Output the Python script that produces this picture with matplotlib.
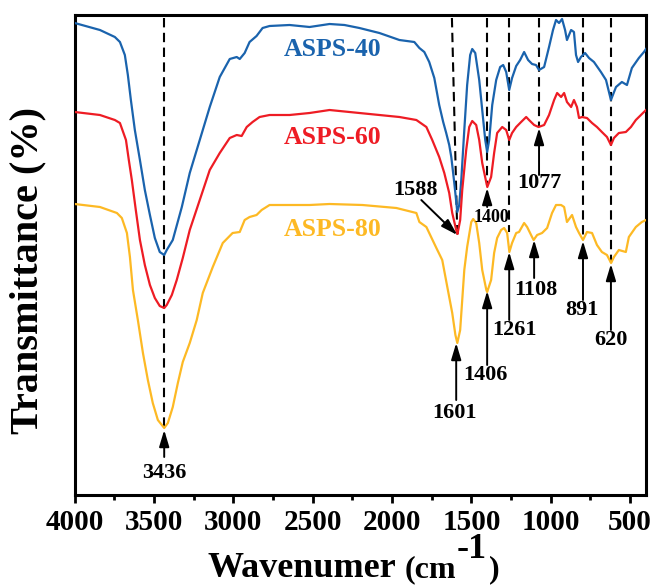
import numpy as np
import matplotlib
matplotlib.use('Agg')
import matplotlib.pyplot as plt

plt.rcParams['font.family'] = ['Liberation Serif', 'DejaVu Serif']
plt.rcParams['font.weight'] = 'bold'
plt.rcParams['mathtext.default'] = 'regular'

# spectra: wavenumber (cm-1) and transmittance (a.u.)
wn_40 = [4000, 3841, 3747, 3715, 3684, 3665, 3646, 3621, 3589, 3558, 3526, 3495, 3464,
         3436, 3420, 3382, 3325, 3275, 3212, 3149, 3086, 3023, 2979, 2960, 2929, 2898,
         2854, 2816, 2772, 2646, 2520, 2394, 2300, 2206, 2080, 1954, 1860, 1828, 1797,
         1766, 1734, 1703, 1678, 1659, 1640, 1627, 1608, 1589, 1577, 1564, 1545, 1527,
         1508, 1495, 1476, 1451, 1432, 1413, 1401, 1388, 1369, 1344, 1319, 1300, 1281,
         1262, 1244, 1218, 1193, 1168, 1143, 1118, 1093, 1074, 1042, 1011, 986, 967,
         948, 929, 910, 898, 872, 854, 841, 828, 810, 784, 759, 728, 684, 652, 621,
         589, 552, 520, 489, 445, 413, 400]
t_40 = [95.4, 94.0, 92.6, 91.6, 89.0, 85.0, 80.0, 74.0, 68.0, 62.0, 57.0, 52.4, 49.6,
        49.0, 50.0, 52.0, 58.6, 65.4, 72.0, 78.6, 84.6, 88.2, 88.6, 88.2, 89.4, 91.6,
        92.8, 94.4, 94.8, 95.0, 94.6, 95.2, 95.0, 94.4, 93.4, 92.0, 91.6, 90.4, 89.6,
        87.6, 84.4, 79.0, 75.6, 73.4, 71.0, 68.6, 63.4, 57.6, 59.0, 64.0, 74.0, 83.0,
        89.0, 90.2, 89.4, 84.0, 78.0, 72.0, 69.6, 72.0, 79.0, 84.0, 86.6, 87.0, 85.6,
        82.0, 84.4, 86.8, 88.0, 89.6, 88.0, 87.2, 87.0, 86.0, 86.6, 90.6, 94.0, 96.0,
        95.4, 96.2, 94.0, 92.0, 94.0, 93.6, 89.0, 87.6, 88.6, 89.4, 88.4, 87.6, 85.6,
        84.0, 80.0, 82.6, 83.6, 83.0, 86.4, 88.4, 89.6, 90.2]

wn_60 = [4000, 3841, 3747, 3715, 3677, 3659, 3640, 3615, 3589, 3558, 3526, 3495, 3464,
         3436, 3420, 3388, 3357, 3319, 3275, 3212, 3149, 3086, 3023, 2979, 2948, 2916,
         2879, 2835, 2772, 2646, 2520, 2394, 2206, 2080, 1954, 1847, 1784, 1747, 1703,
         1671, 1640, 1621, 1596, 1588, 1571, 1558, 1533, 1514, 1495, 1470, 1451, 1432,
         1407, 1400, 1376, 1357, 1338, 1306, 1281, 1262, 1244, 1218, 1187, 1155, 1137,
         1105, 1077, 1042, 1011, 979, 960, 935, 916, 898, 872, 854, 835, 822, 803, 772,
         740, 709, 678, 646, 621, 602, 571, 527, 495, 464, 432, 400]
t_60 = [77.6, 77.0, 76.0, 75.4, 72.0, 68.0, 64.0, 58.0, 52.0, 47.0, 43.0, 40.4, 38.8,
        38.4, 39.0, 41.0, 44.0, 48.4, 54.0, 60.0, 66.0, 69.4, 72.4, 73.0, 72.8, 74.6,
        75.6, 76.6, 77.0, 77.0, 77.4, 78.0, 77.4, 77.0, 76.6, 76.0, 74.6, 72.0, 68.6,
        65.4, 61.4, 57.4, 54.0, 53.2, 56.0, 62.0, 70.0, 74.6, 75.8, 75.0, 72.0, 67.4,
        63.6, 62.6, 64.6, 69.4, 73.4, 74.6, 74.0, 72.0, 73.4, 74.6, 75.6, 76.6, 76.0,
        75.0, 74.6, 75.0, 77.0, 80.0, 81.4, 80.6, 81.4, 79.6, 78.6, 80.0, 78.6, 76.4,
        76.6, 76.4, 75.4, 74.6, 73.6, 72.6, 71.0, 72.4, 73.4, 73.6, 74.6, 76.0, 77.0,
        78.0]

wn_80 = [4000, 3841, 3734, 3703, 3671, 3652, 3633, 3602, 3570, 3539, 3508, 3476, 3436,
         3413, 3382, 3350, 3319, 3275, 3231, 3193, 3130, 3067, 3005, 2960, 2929, 2898,
         2854, 2822, 2772, 2646, 2520, 2394, 2187, 1973, 1847, 1828, 1784, 1766, 1721,
         1684, 1652, 1621, 1601, 1589, 1571, 1558, 1545, 1527, 1501, 1489, 1470, 1451,
         1432, 1406, 1401, 1376, 1357, 1338, 1313, 1294, 1275, 1261, 1244, 1218, 1200,
         1168, 1149, 1118, 1108, 1086, 1055, 1023, 992, 967, 935, 916, 898, 866, 841,
         822, 797, 772, 740, 709, 678, 646, 620, 602, 571, 527, 508, 464, 426, 400]
t_80 = [59.2, 58.6, 57.4, 56.4, 53.4, 48.6, 42.0, 36.0, 29.4, 24.0, 19.4, 16.0, 14.4,
        15.4, 18.6, 23.4, 27.6, 31.4, 36.0, 41.4, 46.6, 51.4, 53.4, 53.6, 56.0, 56.6,
        57.0, 58.0, 59.0, 59.0, 59.0, 59.2, 59.0, 58.4, 57.4, 55.6, 54.6, 53.4, 50.4,
        48.0, 42.6, 37.4, 33.0, 31.4, 34.0, 40.0, 46.0, 50.6, 55.6, 56.2, 55.4, 51.4,
        46.0, 42.0, 41.6, 44.0, 49.4, 52.4, 54.0, 54.4, 53.4, 49.6, 51.4, 53.4, 53.6,
        55.4, 54.6, 52.6, 52.0, 53.0, 53.4, 54.4, 57.4, 59.0, 59.0, 58.6, 55.6, 57.0,
        54.6, 53.4, 52.0, 53.6, 53.4, 51.0, 49.6, 49.0, 47.4, 48.6, 50.0, 49.6, 52.6,
        54.6, 55.6, 56.0]

names = ['ASPS-40', 'ASPS-60', 'ASPS-80']
colors = ['#1a63ad', '#ee1c24', '#fdb924']

# dashed guide lines: (wn top, wn bottom, transmittance at bottom)
guides = [(3436, 3436, 14.4), (1623, 1589, 53.0), (1401, 1401, 63.0),
          (1262, 1262, 53.6), (1073, 1073, 74.6), (797, 797, 52.0), (621, 621, 47.4)]

# peak labels: text, text position, arrow tail, arrow tip, font size
peaks = [
    ('3436', (3436, 5.4), (3436, 8.6), (3436, 14.0), 16),
    ('1588', (1854, 62.0), (1816, 60.0), (1589, 53.0), 16),
    ('1400', (1376, 56.6), (1401, 58.6), (1401, 62.4), 13),
    ('1077', (1074, 63.4), (1074, 65.0), (1074, 74.4), 16),
    ('1601', (1608, 17.4), (1596, 20.0), (1596, 31.4), 16),
    ('1406', (1413, 25.0), (1401, 27.0), (1401, 41.8), 16),
    ('1261', (1231, 34.0), (1262, 36.0), (1262, 49.6), 16),
    ('1108', (1093, 42.0), (1105, 44.4), (1105, 52.0), 16),
    ('891', (803, 38.0), (797, 40.0), (797, 51.8), 16),
    ('620', (621, 32.0), (621, 34.0), (621, 47.2), 16),
]

fig = plt.figure(figsize=(6.55, 5.87), dpi=100)
ax = fig.add_axes([74.7 / 655, 92 / 587, 571.3 / 655, 480 / 587])

for wn, t, c in zip([wn_40, wn_60, wn_80], [t_40, t_60, t_80], colors):
    ax.plot(wn, t, color=c, lw=1.6, zorder=3)

for x0, x1, yb in guides:
    ax.plot([x0, x1], [96.4, yb], color='k', lw=1.5, ls=(0, (4.5, 2.6)), zorder=2)

for txt, tpos, tail, tip, fs in peaks:
    ax.annotate('', xy=tip, xytext=tail,
                arrowprops=dict(arrowstyle='-|>,head_length=0.5,head_width=0.15',
                                mutation_scale=20, color='k', lw=1.4,
                                shrinkA=0, shrinkB=0), zorder=4)
    ax.text(tpos[0], tpos[1], txt, fontsize=fs, fontweight='bold',
            ha='center', va='center', zorder=5)

for name, c, y in zip(names, colors, [90.0, 72.6, 54.0]):
    ax.text(2376, y, name, color=c, fontsize=18.5, fontweight='bold',
            ha='center', va='center')

ax.set_xlim(4000, 400)
ax.set_ylim(1, 97)
ax.set_xticks([4000, 3500, 3000, 2500, 2000, 1500, 1000, 500])
ax.set_xticks(np.arange(3750, 400, -500), minor=True)
ax.set_yticks([])
ax.tick_params(axis='x', which='major', direction='out', length=6, width=2,
               labelsize=21, pad=4)
ax.tick_params(axis='x', which='minor', direction='out', length=3.5, width=2)
for lab in ax.get_xticklabels():
    lab.set_fontweight('bold')
for s in ax.spines.values():
    s.set_linewidth(2.2)

# axis titles
fig.text(207 / 655, 1 - 577 / 587, 'Wavenumer', fontsize=26, fontweight='bold',
         ha='left', va='baseline')
fig.text(405 / 655, 1 - 577 / 587, '(cm', fontsize=23, fontweight='bold',
         ha='left', va='baseline')
fig.text(457 / 655, 1 - 558 / 587, '-1', fontsize=26, fontweight='bold',
         ha='left', va='baseline')
fig.text(489 / 655, 1 - 577 / 587, ')', fontsize=23, fontweight='bold',
         ha='left', va='baseline')
fig.text(28 / 655, 1 - 270 / 587, 'Transmittance (%)', fontsize=29,
         fontweight='bold', rotation=90, ha='center', va='center')

fig.savefig('out.png', dpi=100)
